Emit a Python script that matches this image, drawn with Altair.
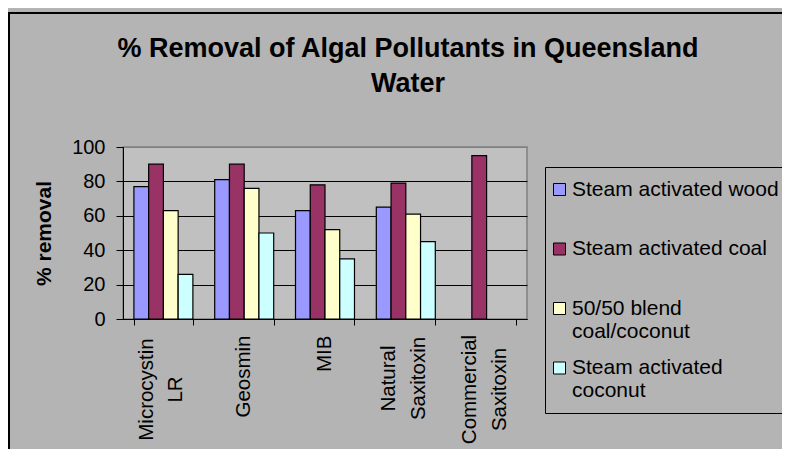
import json
import altair as alt
import pandas as pd

# ---------------- data ----------------
categories = ["Microcystin LR", "Geosmin", "MIB", "Natural Saxitoxin", "Commercial Saxitoxin"]
series = ["Steam activated wood", "Steam activated coal", "50/50 blend coal/coconut", "Steam activated coconut"]
wood = [77, 81, 63, 65, None]
coal = [90, 90, 78, 79, 95]
blend = [63, 76, 52, 61, None]
coconut = [26, 50, 35, 45, None]
colors = ["#9999FF", "#993366", "#FFFFCC", "#CCFFFF"]

x_label_lines = {
    "Microcystin LR": ["Microcystin", "LR"],
    "Geosmin": ["Geosmin"],
    "MIB": ["MIB"],
    "Natural Saxitoxin": ["Natural", "Saxitoxin"],
    "Commercial Saxitoxin": ["Commercial", "Saxitoxin"],
}
legend_label_lines = {
    "Steam activated wood": ["Steam activated wood", ""],
    "Steam activated coal": ["Steam activated coal", ""],
    "50/50 blend coal/coconut": ["50/50 blend", "coal/coconut"],
    "Steam activated coconut": ["Steam activated", "coconut"],
}

rows = []
for name, vals in zip(series, [wood, coal, blend, coconut]):
    for cat, v in zip(categories, vals):
        if v is not None:
            rows.append({"category": cat, "series": name, "value": v})
df = pd.DataFrame(rows)

FONT = "Liberation Sans, Arial, sans-serif"
x_expr = "(" + json.dumps(x_label_lines) + ")[datum.label]"
leg_expr = "(" + json.dumps(legend_label_lines) + ")[datum.label]"

two_line_test = "indexof(['Microcystin LR', 'Commercial Saxitoxin'], datum.value) >= 0"
natural_test = "datum.value == 'Natural Saxitoxin'"

bars = alt.Chart(df).mark_bar(stroke="black", strokeWidth=1.2).encode(
    x=alt.X(
        "category:N",
        sort=categories,
        scale=alt.Scale(domain=categories, paddingInner=0.27, paddingOuter=0.135),
        axis=alt.Axis(
            title=None,
            labelAngle=-90,
            labelExpr=x_expr,
            labelFont=FONT,
            labelFontSize=20.5,
            labelColor="black",
            labelLineHeight=29.5,
            labelLimit=400,
            labelAlign={
                "condition": {"test": two_line_test + " || " + natural_test, "value": "center"},
                "value": "right",
            },
            labelPadding={
                "condition": [
                    {"test": two_line_test, "value": 64},
                    {"test": natural_test, "value": 53},
                ],
                "value": 10,
            },
            labelOffset={
                "condition": {"test": two_line_test + " || " + natural_test, "value": -17},
                "value": -1,
            },
            tickSize=6,
            tickColor="black",
            tickBand="extent",
            domainColor="black",
            domainWidth=1,
            grid=False,
        ),
    ),
    xOffset=alt.XOffset("series:N", sort=series, scale=alt.Scale(domain=series)),
    y=alt.Y(
        "value:Q",
        scale=alt.Scale(domain=[0, 100], nice=False),
        axis=alt.Axis(
            values=[0, 20, 40, 60, 80, 100],
            title="% removal",
            titleFont=FONT,
            titleFontSize=21,
            titleFontWeight="bold",
            titleColor="black",
            titlePadding=17,
            labelFont=FONT,
            labelFontSize=20,
            labelColor="black",
            labelPadding=11,
            tickSize=7,
            tickColor="black",
            domainColor="black",
            domainWidth=1,
            grid=True,
            gridColor={
                "condition": {"test": "datum.value == 100", "value": "#808080"},
                "value": "black",
            },
            gridOpacity=1,
            gridWidth=1,
        ),
    ),
    color=alt.Color(
        "series:N",
        scale=alt.Scale(domain=series, range=colors),
        legend=alt.Legend(
            title=None,
            orient="none",
            legendX=422,
            legendY=20,
            symbolType="square",
            symbolSize=144,
            symbolStrokeColor="black",
            symbolStrokeWidth=1,
            symbolOffset=-8,
            labelFont=FONT,
            labelFontSize=21,
            labelColor="black",
            labelLimit=400,
            labelExpr=leg_expr,
            labelOffset=2,
            rowPadding=14.5,
            padding=12,
            strokeColor="black",
            fillColor="#b4b4b4",
        ),
    ),
)

# outer chart frame (decoration)
frame = alt.Chart(alt.Data(values=[{"frame": 1}])).mark_rect(
    fillOpacity=0, stroke="black", strokeWidth=2
).encode(
    x=alt.value(-114),
    x2=alt.value(700),
    y=alt.value(-134),
    y2=alt.value(420),
)

chart = alt.layer(frame, bars).properties(
    width=404,
    height=172,
    title=alt.TitleParams(
        text=["% Removal of Algal Pollutants in Queensland", "Water"],
        font=FONT,
        fontSize=27,
        fontWeight="bold",
        color="black",
        anchor="middle",
        dx=83,
        dy=90,
        lineHeight=35,
    ),
    autosize=alt.AutoSizeParams(type="none"),
    padding={"left": 115, "top": 139, "right": 255, "bottom": 130},
).configure(
    background="#b4b4b4",
).configure_view(
    fill="#c0c0c0",
    stroke="#808080",
    strokeWidth=1.5,
)

chart.save("out.html", embed_options={"renderer": "svg", "actions": False})
